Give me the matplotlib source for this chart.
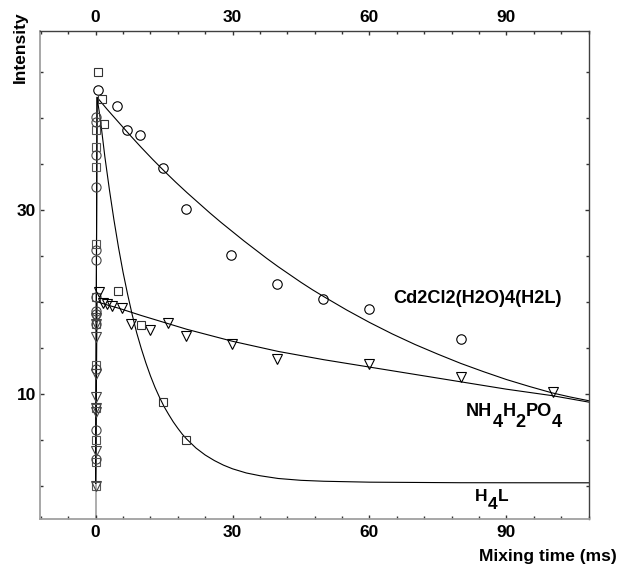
import matplotlib
matplotlib.use("Agg")
import matplotlib.pyplot as plt
from matplotlib.ticker import MultipleLocator, FixedLocator

plt.rcParams['font.family'] = ['Liberation Sans', 'DejaVu Sans']
plt.rcParams['font.weight'] = 'bold'

# ---------------- data ----------------
# Cd2Cl2(H2O)4(H2L) : circles
cd_t = [0.6, 4.7, 6.8, 9.7, 14.7, 19.7, 29.6, 39.8, 49.8, 59.8, 80.0]
cd_y = [42.97, 41.3, 38.7, 38.1, 34.5, 30.1, 25.1, 21.9, 20.3, 19.16, 15.98]

# NH4H2PO4 : down triangles
nh_t = [0.7, 1.5, 2.5, 3.5, 5.7, 7.8, 11.9, 15.9, 19.9, 29.9, 39.8, 59.9, 80.0, 100.2]
nh_y = [21.1, 19.9, 19.7, 19.5, 19.35, 17.55, 16.9, 17.65, 16.25, 15.45, 13.8, 13.2, 11.8, 10.15]

# H4L : squares
h4_t = [0.6, 1.3, 1.9, 4.9, 9.9, 14.8, 19.9]
h4_y = [44.96, 42.0, 39.3, 21.2, 17.5, 9.1, 5.0]

# markers stacked at zero mixing time
zero_sq_y = [38.6, 36.8, 34.6, 26.3, 20.5, 17.6, 13.1, 8.5, 5.0, 2.6, 0.0]
zero_ci_y = [40.1, 39.5, 35.9, 32.5, 25.6, 24.5, 20.5, 19.0, 18.7, 17.6, 12.7, 6.1, 2.9]
zero_tr_y = [18.2, 17.6, 16.2, 12.2, 9.6, 8.5, 8.0, 3.8, 0.0]
zero_t = 0.05

# fitted curves
cd_fit_t = [0, 0.3, 2.5, 5, 7.5, 10, 12.5, 15, 17.5, 20, 22.5, 25, 27.5, 30, 32.5, 35,
            37.5, 40, 42.5, 45, 47.5, 50, 55, 60, 65, 70, 75, 80, 85, 90, 95, 100, 104, 108]
cd_fit_y = [0.3, 42.2, 40.9, 39.5, 38.1, 36.75, 35.45, 34.2, 33.0, 31.85, 30.75, 29.65,
            28.6, 27.6, 26.6, 25.65, 24.7, 23.8, 22.95, 22.1, 21.3, 20.55, 19.1, 17.75,
            16.5, 15.35, 14.3, 13.3, 12.4, 11.55, 10.8, 10.1, 9.65, 9.25]

nh_fit_t = [0, 0.3, 2.5, 5, 7.5, 10, 15, 20, 25, 30, 35, 40, 45, 50, 55, 60, 65, 70,
            75, 80, 85, 90, 95, 100, 104, 108]
nh_fit_y = [0.3, 20.0, 19.65, 19.3, 18.9, 18.5, 17.75, 17.0, 16.35, 15.7, 15.15, 14.6,
            14.15, 13.7, 13.3, 12.9, 12.5, 12.1, 11.7, 11.3, 10.9, 10.5, 10.15, 9.8,
            9.45, 9.1]

h4_fit_t = [0, 0.3, 1, 2, 3, 4, 5, 6, 7, 8, 9, 10, 11, 12, 13, 14, 15, 16, 17, 18, 19,
            20, 22, 24, 26, 28, 30, 33, 36, 40, 45, 50, 60, 80, 108]
h4_fit_y = [0.3, 42.2, 39.9, 35.8, 32.2, 28.9, 25.9, 23.2, 20.8, 18.6, 16.6, 14.9,
            13.35, 11.95, 10.7, 9.6, 8.6, 7.75, 6.95, 6.25, 5.6, 5.05, 4.1, 3.35, 2.75,
            2.25, 1.85, 1.4, 1.1, 0.8, 0.6, 0.5, 0.4, 0.34, 0.33]

x_major = [0, 30, 60, 90]
y_major = [10, 30]
xlim = (-12.2, 108.0)
ylim = (-3.6, 49.4)
baseline = 0.3

# ---------------- figure ----------------
fig = plt.figure(figsize=(6.18, 5.68), dpi=100)
ax = fig.add_axes([40/618, 1-519/568, (588.5-40)/618, (519-31)/568])
ax.set_xlim(*xlim)
ax.set_ylim(*ylim)

# grey part of the zero line below the curves
ax.plot([0, 0], [ylim[0], baseline], color='#a0a0a0', lw=1.2, zorder=1)

lw_fit = 0.8
ax.plot(h4_fit_t, h4_fit_y, color='black', lw=lw_fit, zorder=2)
ax.plot(cd_fit_t, cd_fit_y, color='black', lw=lw_fit, zorder=2)
ax.plot(nh_fit_t, nh_fit_y, color='black', lw=lw_fit, zorder=2)

mk = dict(linestyle='none', markerfacecolor='none', markeredgewidth=0.8, zorder=3)
ax.plot([zero_t]*len(zero_sq_y), zero_sq_y, marker='s', ms=6.3, markeredgecolor='#555555', **mk)
ax.plot([zero_t]*len(zero_ci_y), zero_ci_y, marker='o', ms=6.6, markeredgecolor='#444444', **mk)
ax.plot([zero_t]*len(zero_tr_y), zero_tr_y, marker='v', ms=7.0, markeredgecolor='#444444', **mk)

ax.plot(cd_t, cd_y, marker='o', ms=6.8, markeredgecolor='black', **mk)
ax.plot(nh_t, nh_y, marker='v', ms=7.2, markeredgecolor='black', **mk)
ax.plot(h4_t, h4_y, marker='s', ms=6.4, markeredgecolor='#333333', **mk)

# ---------------- axes styling ----------------
ax.xaxis.set_major_locator(FixedLocator(x_major))
ax.xaxis.set_minor_locator(MultipleLocator(6))
ax.yaxis.set_major_locator(FixedLocator(y_major))
ax.yaxis.set_minor_locator(MultipleLocator(5))
ax.tick_params(which='both', direction='in', top=True, right=True,
               labeltop=True, labelright=False, colors='#333333', labelcolor='black',
               labelsize=12.5)
ax.tick_params(which='major', length=3, width=1)
ax.tick_params(which='minor', length=2.5, width=1)
ax.tick_params(axis='x', which='major', pad=4)
ax.tick_params(axis='y', which='major', pad=3)
for lab in ax.xaxis.get_ticklabels(which='both') + ax.yaxis.get_ticklabels(which='both'):
    lab.set_fontweight('bold')

for s in ['left', 'bottom']:
    ax.spines[s].set_color('#a0a0a0')
    ax.spines[s].set_linewidth(1.3)
for s in ['top', 'right']:
    ax.spines[s].set_color('#404040')
    ax.spines[s].set_linewidth(1.0)

fs = 12.5
fs_lab = 13.1
fig.text(20/618, 1-47/568, 'Intensity', rotation=90, ha='center', va='center',
         fontsize=fs, fontweight='bold')
fig.text(547.5/618, 1-557/568, 'Mixing time (ms)', ha='center', va='center',
         fontsize=fs, fontweight='bold')

ax.text(65.2, 19.85, 'Cd2Cl2(H2O)4(H2L)', ha='left', va='baseline',
        fontsize=fs_lab, fontweight='bold')


def chem(ax, x, y, parts, dy, size):
    """parts: list of (text, is_subscript)"""
    prev = None
    cur_low = False
    for txt, sub in parts:
        if prev is None:
            prev = ax.text(x, y, txt, ha='left', va='baseline', fontsize=size,
                           fontweight='bold')
            cur_low = sub
            continue
        off = 0
        if sub and not cur_low:
            off = -dy
        elif (not sub) and cur_low:
            off = dy
        prev = ax.annotate(txt, xy=(1, 0), xycoords=prev, xytext=(0, off),
                           textcoords='offset points', ha='left', va='bottom',
                           fontsize=size, fontweight='bold')
        cur_low = sub


chem(ax, 81.2, 7.6, [('NH', False), ('4', True), ('H', False), ('2', True),
                     ('PO', False), ('4', True)], dy=8.2, size=fs_lab)
chem(ax, 83.2, -1.6, [('H', False), ('4', True), ('L', False)], dy=5.8, size=fs)

fig.savefig('out.png', dpi=100)
